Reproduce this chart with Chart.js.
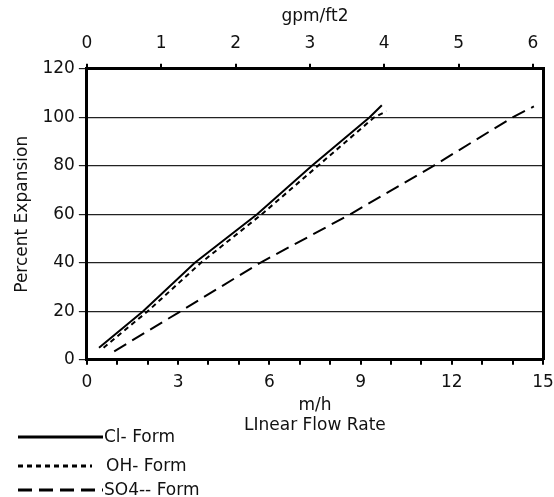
<!DOCTYPE html>
<html>
<head>
<meta charset="utf-8">
<script src="https://cdn.jsdelivr.net/npm/chart.js@4"></script>
<style>
    html, body { margin: 0; padding: 0; background: #fff; }
    #wrap { width: 554px; height: 497px; position: relative; }
</style>
</head>
<body>
<div id="wrap"><canvas id="expansionChart"></canvas></div>
<script>
// --- DATA ---
const seriesNames = ['Cl- Form', 'OH- Form', 'SO4-- Form'];

// Linear flow rate, m/h
const clFlow  = [0.4, 1.85, 3.55, 5.6, 7.4, 9.3, 9.7];
const clExp   = [5, 20, 40, 60, 80, 100, 105];

const ohFlow  = [0.55, 2.0, 3.75, 5.75, 7.6, 9.45, 9.85];
const ohExp   = [5, 20, 40, 60, 80, 100, 102.5];

const so4Flow = [0.9, 3.08, 5.7, 8.66, 11.4, 14.0, 14.7];
const so4Exp  = [3.5, 20, 40, 60, 80, 100, 104.5];

const flowTicks = [0, 3, 6, 9, 12, 15];        // m/h labels
const gpmTicks  = [0, 1, 2, 3, 4, 5, 6];        // gpm/ft2 labels
const expTicks  = [0, 20, 40, 60, 80, 100, 120];

const M_H_PER_GPM = 2.445; // 1 gpm/ft2 = 2.445 m/h

const FONT = '"DejaVu Sans", sans-serif';

function toPoints(xs, ys) {
    return xs.map((x, i) => ({ x: x, y: ys[i] }));
}

// --- LEGEND drawn under the plot, bottom left ---
const bottomLegend = {
    id: 'bottomLegend',
    afterDraw(chart) {
        const ctx = chart.ctx;
        const rows = [437, 466, 490];
        const lineStart = [18, 18, 18];
        const lineEnd = [103, 92, 103];
        ctx.save();
        chart.data.datasets.forEach((ds, i) => {
            ctx.beginPath();
            ctx.strokeStyle = ds.borderColor;
            ctx.lineWidth = 3;
            ctx.setLineDash(ds.borderDash || []);
            ctx.moveTo(lineStart[i], rows[i]);
            ctx.lineTo(lineEnd[i], rows[i]);
            ctx.stroke();
            ctx.setLineDash([]);
            ctx.fillStyle = '#111';
            ctx.font = '17px ' + FONT;
            ctx.textBaseline = 'middle';
            ctx.fillText(ds.label, i === 1 ? 106 : 104, rows[i] + 1);
        });
        ctx.restore();
    }
};

function noSidePadding(axis) {
    axis.paddingLeft = 0;
    axis.paddingRight = 0;
}

function initChart() {
    const el = document.getElementById('expansionChart');
    new Chart(el.getContext('2d'), {
        type: 'scatter',
        data: {
            datasets: [
                {
                    label: seriesNames[0],
                    data: toPoints(clFlow, clExp),
                    showLine: true,
                    borderColor: '#000',
                    borderWidth: 2,
                    pointRadius: 0,
                    xAxisID: 'x',
                    yAxisID: 'y'
                },
                {
                    label: seriesNames[1],
                    data: toPoints(ohFlow, ohExp),
                    showLine: true,
                    borderColor: '#000',
                    borderWidth: 2,
                    borderDash: [5, 4],
                    pointRadius: 0,
                    xAxisID: 'x',
                    yAxisID: 'y'
                },
                {
                    label: seriesNames[2],
                    data: toPoints(so4Flow, so4Exp),
                    showLine: true,
                    borderColor: '#000',
                    borderWidth: 2,
                    borderDash: [14, 7],
                    pointRadius: 0,
                    xAxisID: 'x',
                    yAxisID: 'y'
                }
            ]
        },
        options: {
            responsive: true,
            maintainAspectRatio: false,
            animation: false,
            layout: { padding: { left: 12, right: 11, top: 6, bottom: 61 } },
            plugins: {
                legend: { display: false },
                tooltip: { enabled: false }
            },
            scales: {
                x: {
                    type: 'linear',
                    position: 'bottom',
                    min: 0,
                    max: 15,
                    afterBuildTicks: (axis) => {
                        axis.ticks = [];
                        for (let v = 0; v <= 15; v++) axis.ticks.push({ value: v });
                    },
                    afterFit: noSidePadding,
                    ticks: {
                        color: '#111',
                        font: { family: FONT, size: 17 },
                        maxRotation: 0,
                        autoSkip: false,
                        padding: 8,
                        callback: (v) => flowTicks.includes(v) ? String(v) : ''
                    },
                    grid: { drawOnChartArea: false, color: '#000', lineWidth: 2, tickLength: 5 },
                    border: { color: '#000', width: 3 },
                    title: {
                        display: true,
                        text: ['m/h', 'LInear Flow Rate'],
                        color: '#111',
                        font: { family: FONT, size: 17 },
                        padding: { top: -6, bottom: 0 }
                    }
                },
                x2: {
                    type: 'linear',
                    position: 'top',
                    min: 0,
                    max: 15 / M_H_PER_GPM,
                    afterBuildTicks: (axis) => {
                        axis.ticks = gpmTicks.map(v => ({ value: v }));
                    },
                    afterFit: noSidePadding,
                    ticks: {
                        color: '#111',
                        font: { family: FONT, size: 17 },
                        maxRotation: 0,
                        autoSkip: false,
                        padding: 10
                    },
                    grid: { drawOnChartArea: false, color: '#000', lineWidth: 2, tickLength: 5 },
                    border: { color: '#000', width: 3 },
                    title: {
                        display: true,
                        text: 'gpm/ft2',
                        color: '#111',
                        font: { family: FONT, size: 17 },
                        padding: { top: 0, bottom: -3 }
                    }
                },
                y: {
                    type: 'linear',
                    min: 0,
                    max: 120,
                    afterBuildTicks: (axis) => {
                        axis.ticks = expTicks.map(v => ({ value: v }));
                    },
                    ticks: {
                        color: '#111',
                        font: { family: FONT, size: 17 },
                        padding: 4
                    },
                    grid: { color: '#222', lineWidth: 1.2, tickLength: 8 },
                    border: { color: '#000', width: 3 },
                    title: {
                        display: true,
                        text: 'Percent Expansion',
                        color: '#111',
                        font: { family: FONT, size: 17 },
                        padding: { top: 0, bottom: 6 }
                    }
                },
                yRight: {
                    type: 'linear',
                    position: 'right',
                    min: 0,
                    max: 120,
                    afterFit: (axis) => { axis.width = 0; },
                    ticks: { display: false },
                    grid: { drawOnChartArea: false, drawTicks: false },
                    border: { color: '#000', width: 3 }
                }
            }
        },
        plugins: [bottomLegend]
    });
}

document.addEventListener('DOMContentLoaded', initChart);
</script>
</body>
</html>
